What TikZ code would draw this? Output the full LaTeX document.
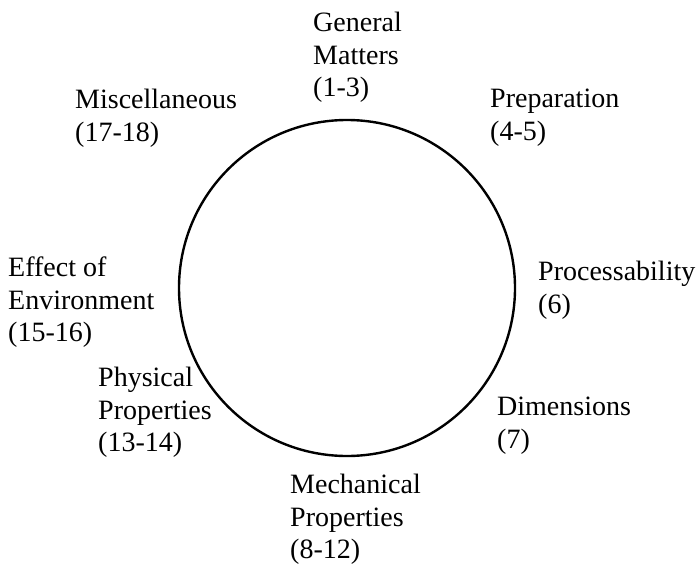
\documentclass[tikz,border=0pt]{standalone}
\usepackage{fontspec}
\setmainfont{Liberation Serif}
\usetikzlibrary{positioning}

\begin{document}
\begin{tikzpicture}[x=1pt,y=-1pt,
  lbl/.style={anchor=north west, align=left, inner sep=0pt,
    font=\fontsize{28}{32.5}\selectfont}]
\useasboundingbox (0,0) rectangle (700,564);

% Circle
\draw[line width=2.4pt] (347,288) circle (168pt);

% Labels
\node[lbl] (general) at (313,12) {General\\Matters\\(1-3)};
\node[lbl] (prep) at (490,89) {Preparation\\(4-5)};
\node[lbl] (process) at (538,261) {Processability\\(6)};
\node[lbl] (dim) at (497,397) {Dimensions\\(7)};
\node[lbl] (mech) at (290,474) {Mechanical\\Properties\\(8-12)};
\node[lbl] (phys) at (98,367) {Physical\\Properties\\(13-14)};
\node[lbl] (env) at (8,257) {Effect of\\Environment\\(15-16)};
\node[lbl] (misc) at (75,89) {Miscellaneous\\(17-18)};
\end{tikzpicture}
\end{document}
